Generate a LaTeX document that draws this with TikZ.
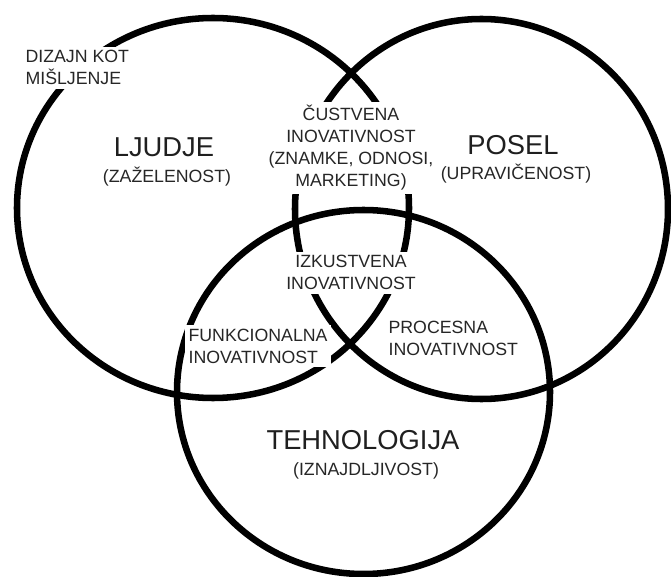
\documentclass[tikz,border=0pt]{standalone}
\usepackage{fontspec}
\setmainfont{Liberation Sans}

\begin{document}
\begin{tikzpicture}[x=0.75pt, y=-0.75pt,
	ring/.style={line width=4.9pt},
	headtext/.style={font=\fontsize{20.5}{24}\selectfont, text=black!88, anchor=base},
	subtext/.style={font=\fontsize{13.3}{16.5}\selectfont, text=black!85, anchor=base},
	areatext/.style={font=\fontsize{13.3}{16.5}\selectfont, text=black!85, fill=white, inner sep=2.5pt}]
	
	\useasboundingbox (0,0) rectangle (671,577);
	
	% Draw circles
	\draw[ring] (213,208) ellipse[x radius=196, y radius=190];
	\draw[ring] (481.5,209) ellipse[x radius=186.5, y radius=190];
	\draw[ring] (363.5,392) ellipse[x radius=186.5, y radius=182];
	
	% Label circles
	\node[headtext] (ljudje) at (164,157) {LJUDJE};
	\node[subtext] (ljudjesub) at (167,183) {(ZAŽELENOST)};
	\node[headtext] (posel) at (513,155) {POSEL};
	\node[subtext] (poselsub) at (516,180) {(UPRAVIČENOST)};
	\node[headtext] (tehno) at (363,449) {TEHNOLOGIJA};
	\node[subtext] (tehnosub) at (366,475) {(IZNAJDLJIVOST)};
	
	% Label overlaps (base = last line)
	\node[areatext, align=center, anchor=base] (custvena) at (351,187) {ČUSTVENA\\INOVATIVNOST\\(ZNAMKE, ODNOSI,\\MARKETING)};
	\node[areatext, align=center, anchor=base] (izkustvena) at (351,290) {IZKUSTVENA\\INOVATIVNOST};
	\node[areatext, align=left, anchor=base west] (funkcionalna) at (185,363) {FUNKCIONALNA\\INOVATIVNOST};
	\node[areatext, align=left, anchor=base west] (procesna) at (385,355) {PROCESNA\\INOVATIVNOST};
	
	% Outside label
	\node[areatext, align=left, anchor=base west] (dizajn) at (22,85) {DIZAJN KOT\\MIŠLJENJE};
	
\end{tikzpicture}
\end{document}
